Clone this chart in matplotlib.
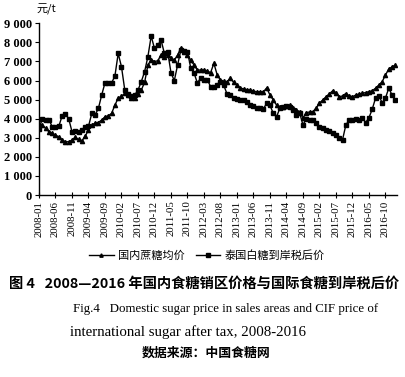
import matplotlib
matplotlib.use("Agg")
import matplotlib.pyplot as plt

# monthly data, 2008-01 .. 2017-01 (yuan/t)
domestic = [
    3720, 3670, 3490, 3320, 3230, 3140, 3050, 2880, 2790, 2790,
    2880, 3020, 2910, 2840, 3090, 3400, 3670, 3770, 3800, 3930,
    4100, 4150, 4280, 4710, 5080, 5170, 5340, 5250, 5080, 5100,
    5300, 5500, 5900, 6800, 7100, 6990, 7040, 7340, 7250, 7340,
    7160, 7070, 7340, 7700, 7510, 7340, 7070, 6810, 6550, 6550,
    6550, 6500, 6410, 6900, 6300, 6020, 5950, 5940, 6130, 5900,
    5750, 5610, 5560, 5520, 5500, 5450, 5410, 5410, 5410, 5610,
    5240, 4980, 4710, 4620, 4600, 4660, 4710, 4550, 4450, 4370,
    4030, 4320, 4350, 4370, 4550, 4820, 4980, 5150, 5300, 5460,
    5370, 5130, 5200, 5320, 5200, 5150, 5240, 5290, 5330, 5370,
    5420, 5460, 5600, 5760, 5940, 6290, 6600, 6720, 6810,
]
thai_cif = [
    3450, 4000, 3950, 3950, 3580, 3580, 3600, 4140, 4240, 4000,
    3320, 3370, 3320, 3420, 3580, 3600, 4280, 4190, 4540, 5240,
    5880, 5880, 5880, 6230, 7420, 6720, 5500, 5300, 5200, 5240,
    5500, 5940, 6460, 7250, 8330, 7680, 7860, 8120, 7420, 7510,
    6410, 5990, 6810, 7600, 7550, 7500, 6650, 6390, 5870, 6130,
    6050, 6050, 5680, 5680, 5750, 5940, 5750, 5290, 5240, 5100,
    5050, 5000, 4980, 4900, 4710, 4650, 4550, 4540, 4520, 4800,
    4700, 4280, 4100, 4550, 4600, 4650, 4600, 4450, 4190, 4300,
    3670, 4000, 3950, 3930, 3800, 3580, 3500, 3430, 3350, 3260,
    3150, 3000, 2900, 3670, 3930, 3950, 3980, 3930, 4050, 3800,
    4050, 4500, 5080, 5200, 4840, 5080, 5600, 5240, 4980,
]
xtick_labels = [
    "2008-01", "2008-06", "2008-11", "2009-04", "2009-09", "2010-02",
    "2010-07", "2010-12", "2011-05", "2011-10", "2012-03", "2012-08",
    "2013-01", "2013-06", "2013-11", "2014-04", "2014-09", "2015-02",
    "2015-07", "2015-12", "2016-05", "2016-10",
]
ytick_values = [0, 1000, 2000, 3000, 4000, 5000, 6000, 7000, 8000, 9000]
ytick_labels = ["0", "1 000", "2 000", "3 000", "4 000", "5 000",
                "6 000", "7 000", "8 000", "9 000"]

cjk = ["Noto Sans CJK SC", "DejaVu Sans"]
serif = "Liberation Serif"

fig = plt.figure(figsize=(4.05, 3.77), dpi=100)
ax = fig.add_axes([39 / 405, 1 - 195 / 377, 358 / 405, 171.7 / 377])

months = list(range(len(domestic)))
ax.plot(months, domestic, color="black", lw=1.0, marker="^", ms=3,
        label="国内蔗糖均价")
ax.plot(months, thai_cif, color="black", lw=1.0, marker="s", ms=3,
        label="泰国白糖到岸税后价")

ax.set_xlim(0, 108.5)
ax.set_ylim(0, 9000)
ax.set_xticks(range(0, 5 * len(xtick_labels), 5))
ax.set_xticklabels(xtick_labels, rotation=90, family=serif, fontsize=7.8)
ax.set_yticks(ytick_values)
ax.set_yticklabels(ytick_labels, family=serif, fontsize=9, fontweight="bold")
ax.tick_params(axis="x", direction="inout", length=4, width=0.8, pad=2)
ax.tick_params(axis="y", direction="out", length=3, width=0.8, pad=2)
for side in ["top", "right"]:
    ax.spines[side].set_visible(False)
for side in ["left", "bottom"]:
    ax.spines[side].set_linewidth(1.0)

fig.text(46 / 405, 1 - 9 / 377, "元/t", family=cjk, fontsize=8,
         ha="center", va="center")

fig.legend(loc="center", bbox_to_anchor=(207 / 405, 1 - 255 / 377), ncol=2,
           frameon=False, prop={"family": cjk, "size": 8}, handlelength=2.2,
           columnspacing=1.0, handletextpad=0.4, markerscale=0.8)

fig.text(204 / 405, 1 - 284 / 377,
         "图 4   2008—2016 年国内食糖销区价格与国际食糖到岸税后价",
         family=cjk, fontsize=10.3, fontweight="bold", ha="center", va="center")
fig.text(73 / 405, 1 - 309 / 377,
         "Fig.4   Domestic sugar price in sales areas and CIF price of",
         family=serif, fontsize=9.3, ha="left", va="center")
fig.text(70 / 405, 1 - 332 / 377,
         "international sugar after tax, 2008-2016",
         family=serif, fontsize=10.7, ha="left", va="center")
fig.text(206 / 405, 1 - 353 / 377, "数据来源：中国食糖网",
         family=cjk, fontsize=9.3, fontweight="bold", ha="center", va="center")

fig.savefig("out.png", dpi=100)
